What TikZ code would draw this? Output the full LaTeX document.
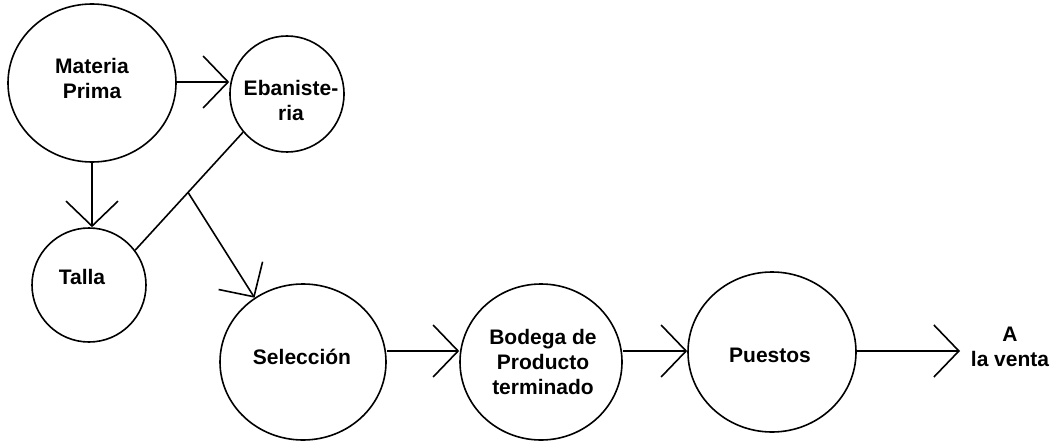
\documentclass[tikz,border=0pt]{standalone}
\usepackage{fontspec}
\setmainfont{Liberation Sans}
\usetikzlibrary{arrows.meta,calc,shapes.geometric}
\tikzset{
  stage/.style 2 args={ellipse,draw,line width=1.6pt,inner sep=0pt,minimum width=#1,minimum height=#2},
  lbl/.style={font=\fontsize{21}{25}\selectfont\bfseries,align=center,inner sep=0pt},
  flow/.style={line width=1.6pt,-{Straight Barb[length=25pt,width=52pt,line width=1.6pt]}},
  link/.style={line width=1.6pt}
}
\begin{document}
\begin{tikzpicture}[x=1pt,y=-1pt]
\useasboundingbox (0,0) rectangle (1059,441);
\node[stage={168pt}{158pt}] (mp) at (92,83) {};
\node[stage={114pt}{116pt}] (eb) at (287,94) {};
\node[stage={114pt}{114pt}] (ta) at (89,285) {};
\node[stage={166pt}{156pt}] (se) at (303,362) {};
\node[stage={162pt}{156pt}] (bo) at (541,362) {};
\node[stage={168pt}{160pt}] (pu) at (772,352) {};
\node[lbl] (mpt) at (92,78) {Materia\\Prima};
\node[lbl] (ebt) at (291,100) {Ebaniste-\\ria};
\node[lbl] (tat) at (82,277) {Talla};
\node[lbl] (set) at (302,357) {Selección};
\node[lbl] (bot) at (543,362) {Bodega de\\Producto\\terminado};
\node[lbl] (put) at (770,355) {Puestos};
\node[lbl] (ven) at (1010,347) {A\\la venta};
\draw[flow] (mp.east |- 0,82) -- (eb.west |- 0,82);
\draw[flow] (mp.south) -- (mp.south |- ta.north);
\draw[link] (ta.37) -- (eb.221);
\coordinate (j) at ($(ta.37)!0.49!(eb.221)$);
\draw[flow] (j) -- (se.127);
\draw[flow] (se.east |- 0,351) -- (bo.west |- 0,351);
\draw[flow] (bo.east |- 0,351) -- (pu.west |- 0,351);
\coordinate (end) at (960,351);
\draw[flow] (pu.east |- 0,351) -- (end);
\end{tikzpicture}
\end{document}
